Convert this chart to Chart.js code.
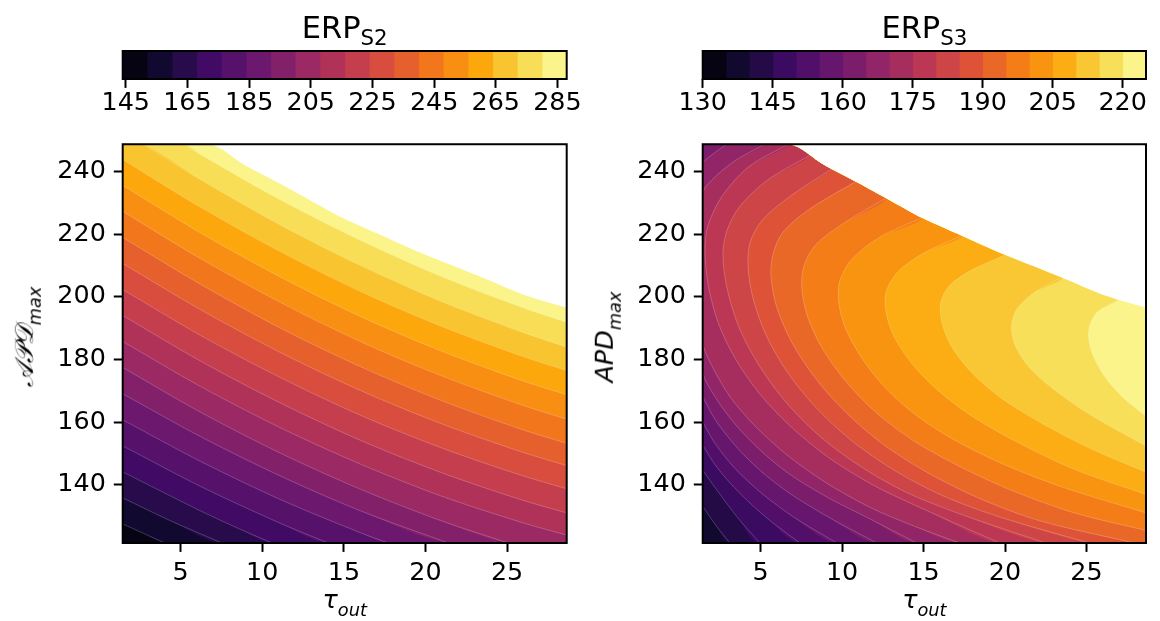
<!DOCTYPE html>
<html>
<head>
<meta charset="utf-8">
<script src="https://cdn.jsdelivr.net/npm/chart.js@4/dist/chart.umd.min.js"></script>
<style>
  body { margin: 0; background: #fff; }
  #fig { position: relative; width: 1160px; height: 621px; overflow: hidden; font-family: "DejaVu Sans", sans-serif; color: #000; }
  canvas { position: absolute; }
  .ttl { position: absolute; top: 13px; font-size: 30.5px; line-height: 30.5px; white-space: nowrap; transform: translateX(-50%); }
  .xl { position: absolute; top: 587px; font-size: 25.4px; line-height: 25.4px; white-space: nowrap; transform: translateX(-50%); font-style: italic; }
  .yl { position: absolute; top: 337px; font-size: 25.4px; line-height: 25.4px; white-space: nowrap; transform: translate(-50%, -50%) rotate(-90deg); font-style: italic; }
  .sb { position: relative; font-size: 0.7em; top: 0.33em; }
  .xl .sb, .yl .sb { top: 0.45em; }
</style>
</head>
<body>
<div id="fig">
  <canvas id="cbS2" width="600" height="80" style="left:0;top:40px"></canvas>
  <canvas id="cbS3" width="580" height="80" style="left:580px;top:40px"></canvas>
  <canvas id="plotS2" width="600" height="500" style="left:0;top:121px"></canvas>
  <canvas id="plotS3" width="580" height="500" style="left:580px;top:121px"></canvas>
  <div class="ttl" style="left:344.7px">ERP<span class="sb">S2</span></div>
  <div class="ttl" style="left:924.4px">ERP<span class="sb">S3</span></div>
  <div class="xl" style="left:344.7px">τ<span class="sb">out</span></div>
  <div class="xl" style="left:924.4px">τ<span class="sb">out</span></div>
  <div class="yl" style="left:26.2px">𝒜𝒫𝒟<span class="sb">max</span></div>
  <div class="yl" style="left:606.2px">APD<span class="sb">max</span></div>
</div>
<script>
// axes
const tauRange = [1.45, 28.65];
const apdRange = [121.4, 248.65];
const tauTicks = [5, 10, 15, 20, 25];
const apdTicks = [140, 160, 180, 200, 220, 240];

// ERP S2: contour levels and colorbar ticks
const s2Levels = [144, 152, 160, 168, 176, 184, 192, 200, 208, 216, 224, 232, 240, 248, 256, 264, 272, 280, 288];
const s2Ticks = [145, 165, 185, 205, 225, 245, 265, 285];
// contour lines, [tau, APD] points, one per level
const s2LineLevels = [152, 160, 168, 176, 184, 192, 200, 208, 216, 224, 232, 240, 248, 256, 264, 272, 280];
const s2Lines = [
  [[1.45,127.5],[2.75,124.4],[4.04,121.4]],
  [[1.45,135.8],[4.34,128.6],[7.53,121.4]],
  [[1.45,144.1],[6.2,131.7],[8.64,125.8],[10.6,121.4]],
  [[1.45,152.4],[6.2,139.5],[11.1,127.7],[14.04,121.4]],
  [[1.45,160.7],[6.2,147.5],[11.1,135.3],[16.0,124.7],[17.72,121.4]],
  [[1.45,169.0],[6.2,155.4],[11.1,142.8],[16.0,131.7],[21.4,121.4]],
  [[1.45,177.4],[6.2,163.2],[11.1,150.1],[16.0,138.6],[20.9,128.6],[25.08,121.4]],
  [[1.45,185.7],[6.2,171.4],[11.1,158.2],[16.0,146.6],[20.9,136.5],[25.8,128.1],[28.65,123.9]],
  [[1.45,194.0],[6.2,179.5],[11.1,166.1],[16.0,154.2],[20.9,144.0],[25.8,135.3],[28.65,131.0]],
  [[1.45,202.3],[6.2,187.7],[11.1,174.2],[16.0,162.2],[20.9,151.9],[25.8,143.1],[28.65,138.7]],
  [[1.45,210.6],[6.2,195.9],[11.1,182.2],[16.0,170.1],[20.9,159.6],[25.8,150.6],[28.65,146.1]],
  [[1.45,218.9],[6.2,204.0],[11.1,190.0],[16.0,177.7],[20.9,167.0],[25.8,157.8],[28.65,153.2]],
  [[1.45,227.2],[6.2,212.2],[11.1,198.2],[16.0,185.7],[20.9,174.9],[25.8,165.6],[28.65,160.9]],
  [[1.45,235.5],[6.2,220.4],[11.1,206.3],[16.0,193.7],[20.9,182.8],[25.8,173.4],[28.65,168.7]],
  [[1.45,243.8],[6.2,228.6],[11.1,214.4],[16.0,201.7],[20.9,190.7],[25.8,181.2],[28.65,176.4]],
  [[2.7,248.65],[6.2,237.4],[11.1,222.9],[16.0,210.0],[20.9,198.6],[25.8,188.9],[28.65,183.9]],
  [[5.16,248.65],[6.2,245.4],[11.1,230.9],[16.0,218.0],[20.9,206.6],[25.8,196.8],[28.65,191.8]]
];

// ERP S3
const s3Levels = [130, 135, 140, 145, 150, 155, 160, 165, 170, 175, 180, 185, 190, 195, 200, 205, 210, 215, 220, 225];
const s3Ticks = [130, 145, 160, 175, 190, 205, 220];
const s3LineLevels = [140, 145, 150, 155, 160, 165, 170, 175, 180, 185, 190, 195, 200, 205, 210, 215, 220];
const s3Lines = [
  [[1.45,133.1],[2.26,127.0],[3.12,121.4]],
  [[1.45,144.6],[2.39,137.8],[3.61,129.4],[4.96,121.4]],
  [[1.45,152.6],[2.33,145.5],[3.74,137.2],[5.45,129.1],[7.41,121.4]],
  [[1.45,160.0],[2.2,153.2],[3.43,145.2],[5.08,137.2],[7.11,129.4],[9.68,121.4]],
  [[1.45,168.1],[2.2,160.9],[3.43,152.6],[4.96,144.6],[6.8,137.2],[9.25,129.4],[12.13,121.4]],
  [[2.94,248.65],[2.02,245.3],[1.45,242.2],[1.45,176.4],[2.2,168.1],[3.43,159.4],[4.96,151.1],[6.8,143.3],[9.13,135.9],[11.7,129.1],[14.58,121.4]],
  [[5.27,248.65],[3.43,243.4],[2.02,237.3],[1.45,232.9],[1.45,185.7],[2.02,177.9],[3.12,168.1],[4.65,158.8],[6.62,149.5],[8.94,140.9],[11.7,132.8],[14.46,126.7],[17.22,121.4]],
  [[6.68,248.65],[4.23,241.3],[2.63,232.0],[1.77,222.7],[1.59,215.0],[1.77,204.2],[2.39,191.8],[3.43,180.4],[4.9,169.3],[6.8,158.8],[9.19,148.6],[12.01,139.6],[15.26,131.6],[19.67,121.4]],
  [[8.02,245.1],[5.45,237.3],[3.74,228.9],[2.94,221.2],[2.69,213.5],[2.94,202.7],[3.67,190.3],[4.84,178.6],[6.43,167.1],[8.45,156.3],[10.97,146.4],[13.85,137.8],[17.22,130.7],[22.49,121.4]],
  [[9.43,241.0],[6.8,232.0],[5.08,224.3],[4.35,217.2],[4.23,209.5],[4.53,199.6],[5.33,187.8],[6.62,176.1],[8.33,165.0],[10.48,154.5],[13.11,144.9],[16.17,136.5],[19.67,129.7],[25.18,121.4]],
  [[10.9,236.9],[8.02,228.0],[6.37,220.6],[5.76,213.5],[5.64,206.4],[6.0,196.5],[6.92,185.4],[8.33,174.2],[10.17,163.4],[12.44,153.2],[15.19,144.0],[18.44,135.6],[22.12,128.5],[27.94,121.4]],
  [[12.74,231.6],[10.17,223.7],[8.39,216.6],[7.66,209.8],[7.53,202.7],[7.9,193.4],[8.82,183.2],[10.23,173.0],[12.07,163.1],[14.46,153.8],[17.34,145.5],[20.59,137.8],[24.26,131.0],[28.65,125.4]],
  [[14.95,225.3],[12.31,219.0],[10.6,211.9],[9.86,205.1],[9.8,198.0],[10.23,189.7],[11.21,180.4],[12.62,171.1],[14.46,162.5],[16.91,154.2],[19.97,146.4],[23.65,139.0],[28.65,131.0]],
  [[17.4,219.6],[15.07,214.1],[13.42,207.9],[12.68,201.1],[12.74,194.0],[13.29,186.3],[14.4,177.9],[15.99,169.6],[18.14,161.3],[20.89,153.2],[24.26,144.9],[28.65,136.9]],
  [[20.1,213.5],[17.95,208.5],[16.6,203.6],[16.05,198.0],[16.17,190.9],[16.79,183.5],[17.95,175.8],[19.67,168.0],[22.12,160.0],[25.18,151.7],[28.65,144.0]],
  [[23.53,206.3],[21.81,201.4],[20.71,195.9],[20.4,190.3],[20.65,184.1],[21.51,177.3],[23.04,170.2],[25.18,162.5],[28.65,152.3]],
  [[27.02,199.3],[25.61,194.9],[25.12,188.8],[25.37,181.6],[26.16,174.2],[27.26,167.7],[28.65,161.9]]
];

// upper APD limit, no data above it (same in both panels)
const apdLimit = [[6.8,248.65],[8.84,242.3],[10.89,236.6],[12.93,230.8],[14.97,225.0],[17.42,219.3],[20.08,213.2],[23.55,206.0],[26.2,200.3],[28.65,196.5]];

// inferno colormap stops
const infernoStops = ['#000004','#160b39','#420a68','#6a176e','#932667','#bc3754','#dd513a','#f37819','#fca50a','#f6d746','#fcffa4'];
function inferno(t) {
  const s = Math.max(0, Math.min(1, t)) * 10;
  const i = Math.min(9, Math.floor(s));
  const f = s - i;
  const a = infernoStops[i], b = infernoStops[i + 1];
  const c = [1, 3, 5].map(j => {
    const u = parseInt(a.substr(j, 2), 16), v = parseInt(b.substr(j, 2), 16);
    return Math.round(u + (v - u) * f);
  });
  return `rgb(${c[0]},${c[1]},${c[2]})`;
}
const bandColor = (k, n) => inferno((k + 0.5) / n);

Chart.defaults.font.family = 'DejaVu Sans';
Chart.defaults.font.size = 25.4;
Chart.defaults.color = '#000';

const frame = {
  id: 'frame',
  afterDraw(chart) {
    const { ctx, chartArea: a } = chart;
    ctx.save();
    ctx.strokeStyle = '#000';
    ctx.lineWidth = 2;
    ctx.strokeRect(a.left, a.top, a.right - a.left, a.bottom - a.top);
    ctx.restore();
  }
};

const tickFont = { family: 'DejaVu Sans', size: 25.4 };
const axisGrid = { drawOnChartArea: false, tickLength: 8.9, tickWidth: 2, tickColor: '#000' };

function colorbar(id, levels, ticks, padRight) {
  const n = levels.length - 1;
  const datasets = [];
  for (let k = 0; k < n; k++) {
    datasets.push({
      data: [[levels[k], levels[k + 1]]],
      backgroundColor: bandColor(k, n),
      borderWidth: 0,
      barPercentage: 1,
      categoryPercentage: 1,
      grouped: false
    });
  }
  new Chart(document.getElementById(id), {
    type: 'bar',
    data: { labels: [''], datasets },
    options: {
      indexAxis: 'y',
      responsive: false,
      animation: false,
      devicePixelRatio: 1,
      events: [],
      layout: { padding: { left: 122.7, right: padRight, top: 11, bottom: 0 } },
      plugins: { legend: { display: false }, tooltip: { enabled: false } },
      scales: {
        y: { display: false },
        x: {
          type: 'linear', min: levels[0], max: levels[n], position: 'bottom',
          afterBuildTicks: s => { s.ticks = ticks.map(v => ({ value: v })); },
          afterFit: s => { s.height = 41; },
          grid: axisGrid,
          border: { display: false },
          ticks: { font: tickFont, padding: 0, autoSkip: false, maxRotation: 0 }
        }
      }
    },
    plugins: [frame]
  });
}

function contourPlot(id, levels, lineLevels, lines, padRight) {
  const n = levels.length - 1;
  const [x0, x1] = tauRange;
  const [y0, y1] = apdRange;
  const pt = p => ({ x: p[0], y: p[1] });
  const ds = [];
  // lowest band fills the whole area
  ds.push({
    data: [{ x: x0, y: y1 }, { x: x1, y: y1 }],
    fill: 'start', backgroundColor: bandColor(levels.indexOf(lineLevels[0]) - 1, n),
    borderWidth: 0, order: 1000
  });
  lines.forEach((line, i) => {
    const pts = line.map(pt);
    const first = pts[0], last = pts[pts.length - 1];
    if (first.x > x0) {
      // close the region over the top: from the top-left corner, along the APD limit if the line starts on it
      const head = [{ x: x0, y: y1 }];
      if (first.y < y1) apdLimit.filter(p => p[0] < first.x).forEach(p => head.push(pt(p)));
      pts.unshift(...head);
    }
    if (last.x < x1) pts.push({ x: x1, y: y0 });
    ds.push({
      data: pts, fill: 'end',
      backgroundColor: bandColor(levels.indexOf(lineLevels[i]), n),
      borderWidth: 0, order: 900 - i
    });
    ds.push({
      data: line.map(pt), fill: false,
      borderColor: 'rgba(255,255,255,0.3)', borderWidth: 0.7, order: 100
    });
  });
  const lim = apdLimit.map(pt);
  lim.unshift({ x: x0, y: y1 });
  ds.push({ data: lim, fill: 'end', backgroundColor: '#fff', borderWidth: 0, order: 10 });

  new Chart(document.getElementById(id), {
    type: 'line',
    data: { datasets: ds },
    options: {
      responsive: false,
      animation: false,
      devicePixelRatio: 1,
      events: [],
      layout: { padding: { left: 0, right: padRight, top: 10, bottom: 0 } },
      elements: { point: { radius: 0, hoverRadius: 0 }, line: { tension: 0.3 } },
      plugins: { legend: { display: false }, tooltip: { enabled: false } },
      scales: {
        x: {
          type: 'linear', min: x0, max: x1,
          afterBuildTicks: s => { s.ticks = tauTicks.map(v => ({ value: v })); },
          afterFit: s => { s.height = 78; },
          grid: axisGrid,
          border: { display: false },
          ticks: { font: tickFont, padding: 6.5, autoSkip: false, maxRotation: 0 }
        },
        y: {
          type: 'linear', min: y0, max: y1,
          afterBuildTicks: s => { s.ticks = apdTicks.map(v => ({ value: v })); },
          afterFit: s => { s.width = 122.7; },
          grid: axisGrid,
          border: { display: false },
          ticks: { font: tickFont, padding: 8, autoSkip: false }
        }
      }
    },
    plugins: [frame]
  });
}

colorbar('cbS2', s2Levels, s2Ticks, 33.3);
colorbar('cbS3', s3Levels, s3Ticks, 14);
contourPlot('plotS2', s2Levels, s2LineLevels, s2Lines, 33.3);
contourPlot('plotS3', s3Levels, s3LineLevels, s3Lines, 14);
</script>
</body>
</html>
